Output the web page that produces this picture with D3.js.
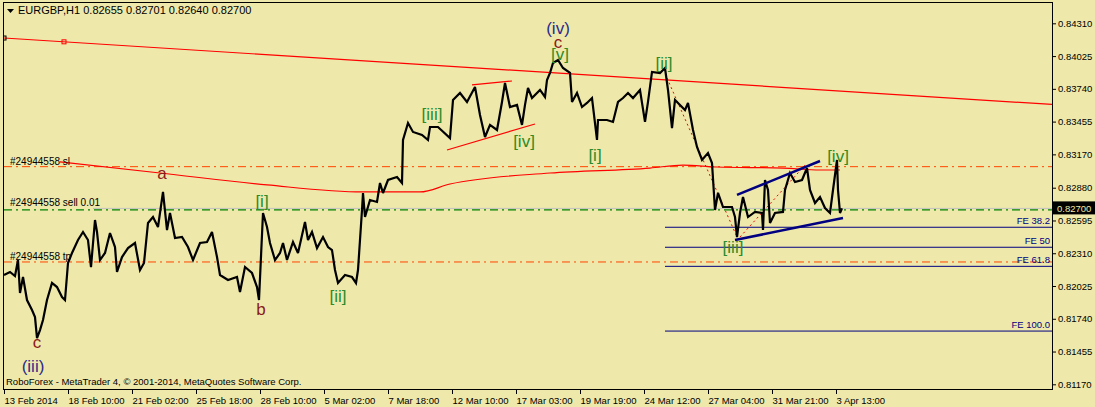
<!DOCTYPE html>
<html><head><meta charset="utf-8">
<script src="https://cdn.jsdelivr.net/npm/d3@7"></script>
<style>
body{margin:0;background:#EEE8AA;}
svg{display:block;}
text{font-family:"Liberation Sans",Arial,sans-serif;}
</style>
</head><body>
<svg id="c" width="1095" height="407"></svg>
<script>
// ---- data (hourly bar index from first bar, price) ----
const hourIndex = [
  0,6,11,14,16,19,23,28,31,33,
  36,39,43,48,53,58,61,64,68,74,
  79,84,87,91,93,96,101,106,111,113,
  118,124,131,136,140,144,149,154,159,163,
  166,171,178,184,189,196,203,208,213,216,
  224,233,236,241,248,253,255,259,263,266,
  271,276,279,283,289,294,301,304,308,313,
  319,324,328,331,334,341,348,352,354,358,
  359,361,366,373,376,379,384,393,398,399,
  404,409,418,424,426,434,446,449,456,463,
  471,476,481,486,493,498,501,506,513,518,
  521,524,528,536,541,543,546,549,554,559,
  566,568,573,578,583,588,593,594,603,609,
  614,619,624,629,636,641,644,648,656,661,
  664,668,671,674,681,684,689,693,698,704,
  708,711,714,719,728,731,733,736,739,744,
  751,758,759,761,764,766,771,779,781,786,
  791,798,803,806,811,816,821,826,829,833,
  834,836,838
];
const closeValues = [
  0.82121,0.82147,0.82112,0.82251,0.81964,0.82103,0.81903,0.81816,0.81755,0.81572,
  0.81642,0.81729,0.81903,0.82051,0.82016,0.81929,0.81903,0.82225,0.82312,0.82425,
  0.82495,0.82425,0.82190,0.82599,0.82495,0.82251,0.82312,0.82486,0.82364,0.82147,
  0.82277,0.82355,0.82399,0.82164,0.82225,0.82573,0.82625,0.82538,0.82843,0.82512,
  0.82660,0.82442,0.82451,0.82364,0.82251,0.82399,0.82408,0.82495,0.82277,0.82121,
  0.82077,0.82103,0.81973,0.82190,0.82138,0.82016,0.81903,0.82660,0.82538,0.82399,
  0.82251,0.82312,0.82399,0.82251,0.82408,0.82312,0.82582,0.82425,0.82495,0.82355,
  0.82451,0.82364,0.82338,0.82164,0.82051,0.82121,0.82103,0.82051,0.82164,0.82686,
  0.82834,0.82625,0.82773,0.82756,0.82921,0.82834,0.82947,0.82973,0.82921,0.83295,
  0.83443,0.83365,0.83339,0.83295,0.83408,0.83408,0.83312,0.83643,0.83704,0.83626,
  0.83756,0.83513,0.83321,0.83426,0.83382,0.83626,0.83791,0.83582,0.83600,0.83426,
  0.83600,0.83747,0.83660,0.83730,0.83669,0.83817,0.83878,0.83965,0.83991,0.83921,
  0.83878,0.83626,0.83704,0.83582,0.83617,0.83660,0.83295,0.83469,0.83469,0.83452,
  0.83626,0.83660,0.83704,0.83660,0.83730,0.83452,0.83626,0.83887,0.83878,0.83921,
  0.83730,0.83399,0.83643,0.83617,0.83556,0.83617,0.83382,0.83234,0.83121,0.83182,
  0.83095,0.82686,0.82834,0.82712,0.82712,0.82625,0.82451,0.82660,0.82799,0.82625,
  0.82669,0.82660,0.82512,0.82947,0.82860,0.82573,0.82660,0.82669,0.82860,0.83008,
  0.82930,0.82947,0.83051,0.82860,0.82747,0.82799,0.82703,0.82660,0.82860,0.83121,
  0.82860,0.82660,0.82700
];
// slow moving-average-like red curve
const maIndex  = [56,156,263,359,416,446,546,646,679,713,779,816,836];
const maValues = [0.83104,0.83008,0.82904,0.82843,0.82843,0.82912,0.83008,0.83051,0.83077,0.83060,0.83051,0.83034,0.83034];
// long descending red trend line
const trendIndex = [0,1048];
const trendValues = [0.84182,0.83604];
// order levels
const slPrice = 0.83063, sellPrice = 0.82700, tpPrice = 0.82234;
const orderLabels = ["#24944558 sl", "#24944558 sell 0.01", "#24944558 tp"];
// Fibonacci expansion levels
const feNames = ["FE 38.2","FE 50","FE 61.8","FE 100.0"];
const fePrices = [0.82536,0.82362,0.82196,0.81633];
const feStart = 661;
// tick labels
const priceTicks = [0.84310,0.84025,0.83740,0.83455,0.83170,0.82880,0.82595,0.82310,0.82025,0.81740,0.81455,0.81170];
const timeTickIndex = [0,64,128,192,256,320,384,448,512,576,640,704,768,832];
const timeTickLabels = ["13 Feb 2014","18 Feb 10:00","21 Feb 02:00","25 Feb 18:00","28 Feb 10:00","5 Mar 02:00","7 Mar 18:00","12 Mar 10:00","17 Mar 03:00","19 Mar 19:00","24 Mar 12:00","27 Mar 04:00","31 Mar 21:00","3 Apr 13:00"];
// wave labels [text, bar index, price at baseline, kind]
const waveLabels = [
  ["(iii)",29,0.81277,"navy"],["c",33,0.81485,"maroon"],["a",158,0.82956,"maroon"],["b",257,0.81773,"maroon"],
  ["[i]",258,0.82712,"green"],["[ii]",334,0.81886,"green"],["[iii]",428,0.83469,"green"],["[iv]",520,0.83234,"green"],
  ["(iv)",554,0.84217,"navy"],["c",554,0.84095,"maroon"],["[v]",556,0.83991,"green"],["[i]",591,0.83112,"green"],
  ["[ii]",660,0.83913,"green"],["[iii]",729,0.82312,"green"],["[iv]",834,0.83104,"green"]
];
// other drawn lines [i1,p1,i2,p2]
const redTrendSegs = [[443,0.83208,531,0.83434],[468,0.83774,508,0.83808]];
const redDottedSegs = [[663,0.83834,733,0.82451],[736,0.82451,803,0.83095]];
const wedgeSegs = [[733,0.82817,816,0.83112],[731,0.82425,839,0.82616]];

const svg = d3.select("#c");
const x = d3.scaleLinear().domain([0,1048]).range([4,1052]);
const y = d3.scaleLinear().domain([0.81170,0.84310]).range([384.3,23.3]);
const R = 1052, B = 389;

svg.append("rect").attr("width",1095).attr("height",407).attr("fill","#EEE8AA");

const plot = svg.append("g");
plot.append("clipPath").attr("id","clip").append("rect").attr("x",3).attr("y",2).attr("width",R-3).attr("height",B-2);
const g = plot.append("g").attr("clip-path","url(#clip)");

// order level lines
const dashDot = "8,4,2,4";
g.append("line").attr("x1",4).attr("x2",R).attr("y1",y(slPrice)).attr("y2",y(slPrice))
  .attr("stroke","#FF4500").attr("stroke-dasharray",dashDot);
g.append("line").attr("x1",4).attr("x2",R).attr("y1",y(tpPrice)).attr("y2",y(tpPrice))
  .attr("stroke","#FF4500").attr("stroke-dasharray",dashDot);
g.append("line").attr("x1",93).attr("x2",R).attr("y1",y(sellPrice)).attr("y2",y(sellPrice))
  .attr("stroke","#C0C0C0");
g.append("line").attr("x1",4).attr("x2",R).attr("y1",y(sellPrice)+1.5).attr("y2",y(sellPrice)+1.5)
  .attr("stroke","#008000").attr("stroke-width",1.4).attr("stroke-dasharray",dashDot);

// FE lines
fePrices.forEach((p,i)=>{
  g.append("line").attr("x1",x(feStart)).attr("x2",R).attr("y1",y(p)).attr("y2",y(p)).attr("stroke","#000080");
  g.append("text").attr("x",R-2).attr("y",y(p)-3).attr("text-anchor","end")
    .attr("font-size",9.5).attr("fill","#000080").text(feNames[i]);
});

// long trend line
g.append("line").attr("x1",x(trendIndex[0])).attr("y1",y(trendValues[0])).attr("x2",x(trendIndex[1])).attr("y2",y(trendValues[1]))
  .attr("stroke","#FF0000").attr("stroke-width",1.2);
g.append("rect").attr("x",x(60)-2).attr("y",y(trendValues[0]+(trendValues[1]-trendValues[0])*60/1048)-2)
  .attr("width",4).attr("height",4).attr("fill","none").attr("stroke","#FF0000");
g.append("rect").attr("x",x(0)-1).attr("y",y(trendValues[0])-2).attr("width",3).attr("height",4).attr("fill","none").attr("stroke","#000");

// MA curve
g.append("path").datum(maIndex.map((d,i)=>[d,maValues[i]]))
  .attr("d",d3.line().x(d=>x(d[0])).y(d=>y(d[1])).curve(d3.curveMonotoneX))
  .attr("fill","none").attr("stroke","#FF0000").attr("stroke-width",1.2);

// red trend segments
redTrendSegs.forEach(s=>g.append("line").attr("x1",x(s[0])).attr("y1",y(s[1])).attr("x2",x(s[2])).attr("y2",y(s[3]))
  .attr("stroke","#FF0000").attr("stroke-width",1.2));
redDottedSegs.forEach(s=>g.append("line").attr("x1",x(s[0])).attr("y1",y(s[1])).attr("x2",x(s[2])).attr("y2",y(s[3]))
  .attr("stroke","#FF0000").attr("stroke-dasharray","2,3"));

// price line
g.append("path").datum(hourIndex.map((d,i)=>[d,closeValues[i]]))
  .attr("d",d3.line().x(d=>x(d[0])).y(d=>y(d[1])))
  .attr("fill","none").attr("stroke","#000").attr("stroke-width",2.2).attr("stroke-linejoin","miter").attr("stroke-miterlimit",3);

// wedge
wedgeSegs.forEach(s=>g.append("line").attr("x1",x(s[0])).attr("y1",y(s[1])).attr("x2",x(s[2])).attr("y2",y(s[3]))
  .attr("stroke","#000080").attr("stroke-width",2.5));

// order labels
[[slPrice,orderLabels[0]],[sellPrice,orderLabels[1]],[tpPrice,orderLabels[2]]].forEach(d=>{
  g.append("text").attr("x",10).attr("y",y(d[0])-2).attr("font-size",10).attr("fill","#000").text(d[1]);
});

// wave labels
const colors = {navy:"#2B2B8C", maroon:"#8B1A1A", green:"#2A8C2A"};
waveLabels.forEach(w=>{
  g.append("text").attr("x",x(w[1])).attr("y",y(w[2])).attr("text-anchor","middle")
    .attr("font-size",17).attr("fill",colors[w[3]]).text(w[0]);
});

// frame
svg.append("line").attr("x1",3.5).attr("x2",3.5).attr("y1",2).attr("y2",B).attr("stroke","#000");
svg.append("line").attr("x1",3).attr("x2",R).attr("y1",2.5).attr("y2",2.5).attr("stroke","#000");
svg.append("line").attr("x1",R+0.5).attr("x2",R+0.5).attr("y1",2).attr("y2",B+1).attr("stroke","#000");
svg.append("line").attr("x1",3).attr("x2",R+1).attr("y1",B+0.5).attr("y2",B+0.5).attr("stroke","#000");

// right axis
const ra = svg.append("g").attr("transform",`translate(${R},0)`)
  .call(d3.axisRight(y).tickValues(priceTicks).tickFormat(d3.format(".5f")).tickSize(4).tickPadding(2));
ra.select(".domain").remove();
ra.selectAll("text").attr("font-size",9.5).attr("font-family","Liberation Sans, Arial, sans-serif").attr("fill","#000");
ra.selectAll("line").attr("stroke","#000");

// current price box
svg.append("rect").attr("x",R+1).attr("y",y(sellPrice)-7).attr("width",43).attr("height",13).attr("fill","#000");
svg.append("text").attr("x",R+5).attr("y",y(sellPrice)+3.5).attr("font-size",9.5).attr("fill","#EEE8AA").text(d3.format(".5f")(sellPrice));

// bottom axis
const ba = svg.append("g").attr("transform",`translate(0,${B})`)
  .call(d3.axisBottom(x).tickValues(timeTickIndex).tickFormat((d,i)=>timeTickLabels[i]).tickSize(5).tickPadding(3));
ba.select(".domain").remove();
ba.selectAll("line").attr("stroke","#000");
ba.selectAll("text").attr("text-anchor","start").attr("font-size",9.5).attr("font-family","Liberation Sans, Arial, sans-serif").attr("fill","#000").attr("dx",0);

// title
svg.append("path").attr("d","M7,9 L14,9 L10.5,13 Z").attr("fill","#000");
svg.append("text").attr("x",18).attr("y",14).attr("font-size",11).attr("fill","#000")
  .text("EURGBP,H1  0.82655 0.82701 0.82640 0.82700");
svg.append("text").attr("x",6).attr("y",385).attr("font-size",9.5).attr("fill","#000")
  .text("RoboForex - MetaTrader 4, © 2001-2014, MetaQuotes Software Corp.");
</script>
</body></html>
